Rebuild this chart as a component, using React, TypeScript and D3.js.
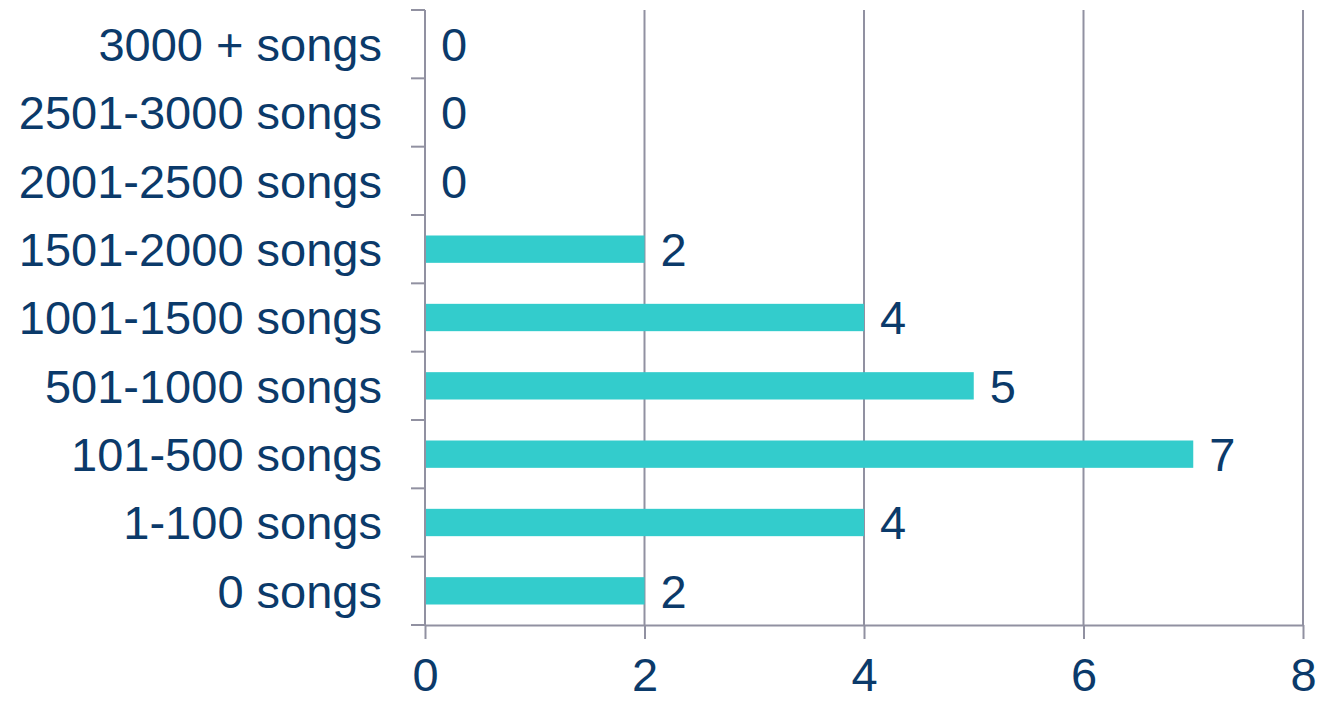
import React, { useEffect, useRef } from 'react';
import * as d3 from 'd3';

// categories from bottom to top, as in the picture
const categories = [
  '0 songs',
  '1-100 songs',
  '101-500 songs',
  '501-1000 songs',
  '1001-1500 songs',
  '1501-2000 songs',
  '2001-2500 songs',
  '2501-3000 songs',
  '3000 + songs',
];
const counts = [2, 4, 7, 5, 4, 2, 0, 0, 0];
const xTicks = [0, 2, 4, 6, 8];

const WIDTH = 1318;
const HEIGHT = 701;
const margin = { top: 10, right: 15, bottom: 76, left: 425 };
const textColor = '#0b3a6a';
const gridColor = '#9191a1';
const barColor = '#33cccc';
const font = '"Liberation Sans", Arial, sans-serif';
const fontSize = 47;

function App() {
  const ref = useRef<SVGSVGElement>(null);

  useEffect(() => {
    const svg = d3.select(ref.current);
    svg.selectAll('*').remove();

    const innerW = WIDTH - margin.left - margin.right;
    const innerH = HEIGHT - margin.top - margin.bottom;

    const x = d3.scaleLinear().domain([0, 8]).range([0, innerW]);
    // reverse so the first category sits at the bottom
    const y = d3
      .scaleBand()
      .domain(categories.slice().reverse())
      .range([0, innerH])
      .paddingInner(0.6)
      .paddingOuter(0.3);

    const g = svg.append('g').attr('transform', `translate(${margin.left},${margin.top})`);

    // vertical gridlines
    g.selectAll('line.grid')
      .data(xTicks.filter((t) => t > 0))
      .enter()
      .append('line')
      .attr('class', 'grid')
      .attr('x1', (d) => x(d))
      .attr('x2', (d) => x(d))
      .attr('y1', 0)
      .attr('y2', innerH)
      .attr('stroke', gridColor)
      .attr('stroke-width', 2);

    // bars
    g.selectAll('rect.bar')
      .data(categories)
      .enter()
      .append('rect')
      .attr('class', 'bar')
      .attr('x', 0)
      .attr('y', (d) => y(d)!)
      .attr('width', (_, i) => x(counts[i]))
      .attr('height', y.bandwidth())
      .attr('fill', barColor);

    // value labels
    g.selectAll('text.value')
      .data(categories)
      .enter()
      .append('text')
      .attr('class', 'value')
      .attr('x', (_, i) => x(counts[i]) + 16)
      .attr('y', (d) => y(d)! + y.bandwidth() / 2 + fontSize * 0.36)
      .attr('fill', textColor)
      .style('font-family', font)
      .style('font-size', `${fontSize}px`)
      .text((_, i) => counts[i]);

    // y axis labels
    const yAxis = g
      .append('g')
      .call(d3.axisLeft(y).tickSize(0).tickFormat((d) => d as string));
    yAxis.select('.domain').remove();
    yAxis.selectAll('.tick line').remove();
    yAxis
      .selectAll('.tick text')
      .attr('fill', textColor)
      .attr('x', -43)
      .attr('dy', null)
      .attr('y', fontSize * 0.36)
      .style('font-family', font)
      .style('font-size', `${fontSize}px`);

    // tick marks sit on the band edges
    const edges = d3.range(categories.length + 1).map((i) => (i * innerH) / categories.length);
    g.selectAll('line.ytick')
      .data(edges)
      .enter()
      .append('line')
      .attr('x1', -14)
      .attr('x2', 0)
      .attr('y1', (d) => d)
      .attr('y2', (d) => d)
      .attr('stroke', gridColor)
      .attr('stroke-width', 2);

    g.append('line')
      .attr('x1', 0)
      .attr('x2', 0)
      .attr('y1', 0)
      .attr('y2', innerH)
      .attr('stroke', gridColor)
      .attr('stroke-width', 2);

    // x axis
    const xAxis = g
      .append('g')
      .attr('transform', `translate(0,${innerH})`)
      .call(d3.axisBottom(x).tickValues(xTicks).tickSize(14).tickSizeOuter(0).tickPadding(0));
    xAxis.select('.domain').attr('stroke', gridColor).attr('stroke-width', 2);
    xAxis.selectAll('.tick line').attr('stroke', gridColor).attr('stroke-width', 2);
    xAxis
      .selectAll('.tick text')
      .attr('fill', textColor)
      .attr('dy', null)
      .attr('y', 66)
      .style('font-family', font)
      .style('font-size', `${fontSize}px`);
  }, []);

  return (
    <svg
      ref={ref}
      width={WIDTH}
      height={HEIGHT}
      style={{ position: 'absolute', left: 0, top: 0, background: '#fff' }}
    />
  );
}

export default App;
